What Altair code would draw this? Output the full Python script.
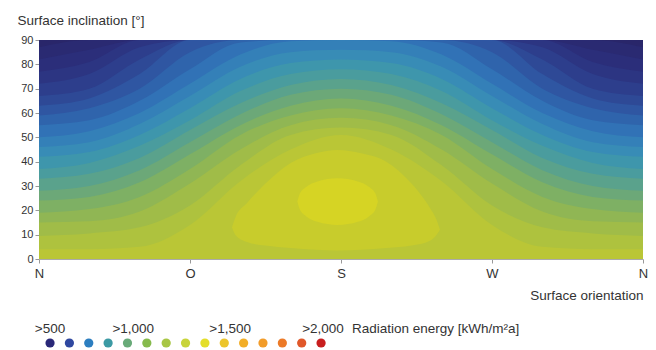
import altair as alt
import pandas as pd

# ---------------- data ----------------
AZIMUTH = [0, 30, 60, 90, 120, 150, 180, 210, 240, 270, 300, 330, 360]
ORIENT_TICKS = [0, 90, 180, 270, 360]
ORIENT_LABELS = ["N", "O", "S", "W", "N"]
INCLINATION_TICKS = [0, 10, 20, 30, 40, 50, 60, 70, 80, 90]

# radiation levels [kWh/m2a]; for each level the inclination up to which
# the radiation is above that level, per azimuth
LEVELS = [525, 550, 575, 600, 625, 650, 675, 700, 725, 750,
          775, 800, 825, 850, 875, 900, 925, 950, 975, 1000]
EDGE_525 = [90, 90, 90, 90, 90, 90, 90, 90, 90, 90, 90, 90, 90]
EDGE_550 = [87, 90, 90, 90, 90, 90, 90, 90, 90, 90, 90, 90, 87]
EDGE_575 = [82, 86, 90, 90, 90, 90, 90, 90, 90, 90, 90, 86, 82]
EDGE_600 = [77, 81, 90, 90, 90, 90, 90, 90, 90, 90, 90, 81, 77]
EDGE_625 = [72, 76, 87, 90, 90, 90, 90, 90, 90, 90, 87, 76, 72]
EDGE_650 = [67, 70, 82, 90, 90, 90, 90, 90, 90, 90, 82, 70, 67]
EDGE_675 = [63, 66, 76, 90, 90, 90, 90, 90, 90, 90, 76, 66, 63]
EDGE_700 = [59, 62, 70, 85, 90, 90, 90, 90, 90, 85, 70, 62, 59]
EDGE_725 = [55, 57, 65, 78, 89, 90, 90, 90, 89, 78, 65, 57, 55]
EDGE_750 = [50, 52.5, 60, 72, 84, 89.5, 90, 89.5, 84, 72, 60, 52.5, 50]
EDGE_775 = [46, 48, 55.5, 67, 79, 85, 86, 85, 79, 67, 55.5, 48, 46]
EDGE_800 = [42, 44, 51, 62, 74, 80.5, 82, 80.5, 74, 62, 51, 44, 42]
EDGE_825 = [37, 39.5, 46.5, 57, 69, 76, 78, 76, 69, 57, 46.5, 39.5, 37]
EDGE_850 = [33, 35, 41.5, 53, 64, 71.5, 74, 71.5, 64, 53, 41.5, 35, 33]
EDGE_875 = [28, 30, 36.5, 48, 59.5, 67.5, 70, 67.5, 59.5, 48, 36.5, 30, 28]
EDGE_900 = [24, 25.5, 31.5, 43, 55, 63, 66, 63, 55, 43, 31.5, 25.5, 24]
EDGE_925 = [19, 20.5, 25.5, 37, 51, 59, 62, 59, 51, 37, 25.5, 20.5, 19]
EDGE_950 = [15, 15.5, 19.5, 31, 45, 55, 58, 55, 45, 31, 19.5, 15.5, 15]
EDGE_975 = [9.5, 10.5, 13, 22, 38.5, 51, 54, 51, 38.5, 22, 13, 10.5, 9.5]
EDGE_1000 = [4, 4, 5, 14, 32, 45, 51, 45, 32, 14, 5, 4, 4]

# closed regions around the optimum (south, ~25 deg)
BLOB_1025_AZ = [115, 117, 124, 135, 150, 165, 178, 192, 207, 222, 233, 237, 239]
BLOB_1025_LO = [13, 10, 7, 5.5, 4.5, 3.8, 3.5, 3.8, 4.5, 5.5, 7.5, 10, 12]
BLOB_1025_HI = [13, 17, 23, 31, 39.5, 43.5, 44.8, 43.5, 40, 31, 21, 16, 12]
BLOB_1050_AZ = [154, 155.5, 159, 166, 178, 190, 197, 200.5, 202]
BLOB_1050_LO = [23.6, 20.3, 17.7, 15.3, 14, 15.3, 17.7, 20.3, 23.6]
BLOB_1050_HI = [23.6, 26.9, 29.5, 31.9, 33.2, 31.9, 29.5, 26.9, 23.6]

BAND_COLORS = ["#29266a", "#2a2a72", "#2b2e7a", "#2c3582", "#2d3e8c",
               "#2e4996", "#2f56a2", "#2f64ac", "#3172b6", "#3480b8",
               "#388cb6", "#3e96ac", "#4a9c9e", "#5aa28c", "#6ca878",
               "#7eb064", "#90b654", "#a0bc48", "#aec23e", "#bac636"]
BLOB_COLORS = ["#c8cc2c", "#d6d424"]

LEGEND_COLORS = ["#2a2878", "#2f48a0", "#2c7ec0", "#3c9aa4", "#68aa78",
                 "#86ba4c", "#a8c644", "#c8d43a", "#e4de2a", "#ecc52c",
                 "#f2ae28", "#f29c2a", "#ec7a28", "#e0582a", "#c81e1e"]
LEGEND_LABELS = [">500", ">1,000", ">1,500", ">2,000"]
LEGEND_LABEL_DOT = [0, 4.3, 9.3, 14.1]
LEGEND_TITLE = "Radiation energy [kWh/m²a]"
LEGEND_TITLE_DOT = 15.6

Y_TITLE = "Surface inclination [°]"
X_TITLE = "Surface orientation"

# ---------------- chart ----------------
EDGES = [EDGE_525, EDGE_550, EDGE_575, EDGE_600, EDGE_625, EDGE_650, EDGE_675,
         EDGE_700, EDGE_725, EDGE_750, EDGE_775, EDGE_800, EDGE_825, EDGE_850,
         EDGE_875, EDGE_900, EDGE_925, EDGE_950, EDGE_975, EDGE_1000]

label_expr = ""
for v, l in zip(ORIENT_TICKS, ORIENT_LABELS):
    label_expr += f"datum.value == {v} ? '{l}' : "
label_expr += "''"

x_enc = alt.X(
    "az:Q",
    scale=alt.Scale(domain=[0, 360], nice=False, zero=False),
    axis=alt.Axis(values=ORIENT_TICKS, labelExpr=label_expr, title=X_TITLE,
                  titleAnchor="end", titleFontSize=13.5, titleFontWeight="normal",
                  titleColor="#333", titlePadding=8, labelFontSize=13,
                  labelColor="#333", labelPadding=4, tickSize=4, tickColor="#999",
                  domainColor="#aaa", grid=False, labelFlush=False),
)
y_enc = alt.Y(
    "lo:Q",
    scale=alt.Scale(domain=[0, 90], nice=False, zero=False),
    axis=alt.Axis(values=INCLINATION_TICKS, title=Y_TITLE, titleAngle=0,
                  titleAlign="left", titleBaseline="alphabetic", titleX=-22,
                  titleY=-16, titleFontSize=13.5, titleFontWeight="normal",
                  titleColor="#333", labelFontSize=11, labelColor="#333",
                  labelPadding=2, tickSize=4, tickColor="#999",
                  domainColor="#aaa", grid=False),
)

layers = []
for lev, edge, col in zip(LEVELS, EDGES, BAND_COLORS):
    df = pd.DataFrame({"az": AZIMUTH, "lo": [0] * len(AZIMUTH), "hi": edge, "level": lev})
    layers.append(
        alt.Chart(df).mark_area(interpolate="monotone", color=col, clip=True)
        .encode(x=x_enc, y=y_enc, y2="hi:Q")
    )
for az, lo, hi, col in [(BLOB_1025_AZ, BLOB_1025_LO, BLOB_1025_HI, BLOB_COLORS[0]),
                        (BLOB_1050_AZ, BLOB_1050_LO, BLOB_1050_HI, BLOB_COLORS[1])]:
    df = pd.DataFrame({"az": az, "lo": lo, "hi": hi})
    layers.append(
        alt.Chart(df).mark_area(interpolate="monotone", color=col, clip=True)
        .encode(x=x_enc, y=y_enc, y2="hi:Q")
    )

main = alt.layer(*layers).properties(width=604, height=219)

lx = alt.Scale(domain=[-0.57, 30.63], nice=False, zero=False)
ly = alt.Scale(type="point", domain=["labels", "dots"], range=[14, 24], padding=0)

dots_df = pd.DataFrame({"i": list(range(len(LEGEND_COLORS))), "c": LEGEND_COLORS, "row": "dots"})
labels_df = pd.DataFrame({"p": LEGEND_LABEL_DOT, "t": LEGEND_LABELS, "row": "labels"})
title_df = pd.DataFrame({"p": [LEGEND_TITLE_DOT], "t": [LEGEND_TITLE], "row": "labels"})

dots = alt.Chart(dots_df).mark_circle(size=85, opacity=1).encode(
    x=alt.X("i:Q", scale=lx, axis=None),
    y=alt.Y("row:N", scale=ly, axis=None),
    color=alt.Color("c:N", scale=None),
)
labels = alt.Chart(labels_df).mark_text(align="center", baseline="alphabetic",
                                        fontSize=13.5, color="#333").encode(
    x=alt.X("p:Q", scale=lx, axis=None),
    y=alt.Y("row:N", scale=ly, axis=None),
    text="t:N",
)
ltitle = alt.Chart(title_df).mark_text(align="left", baseline="alphabetic",
                                       fontSize=13.5, color="#333").encode(
    x=alt.X("p:Q", scale=lx, axis=None),
    y=alt.Y("row:N", scale=ly, axis=None),
    text="t:N",
)
legend = alt.layer(dots, labels, ltitle).properties(width=604, height=30)

chart = alt.vconcat(main, legend, spacing=17).properties(
    padding={"left": 17, "top": 13, "right": 4, "bottom": 0}
).configure(font="Liberation Sans").configure_view(stroke=None)

chart.save("out.html", embed_options={"renderer": "svg", "actions": False})
